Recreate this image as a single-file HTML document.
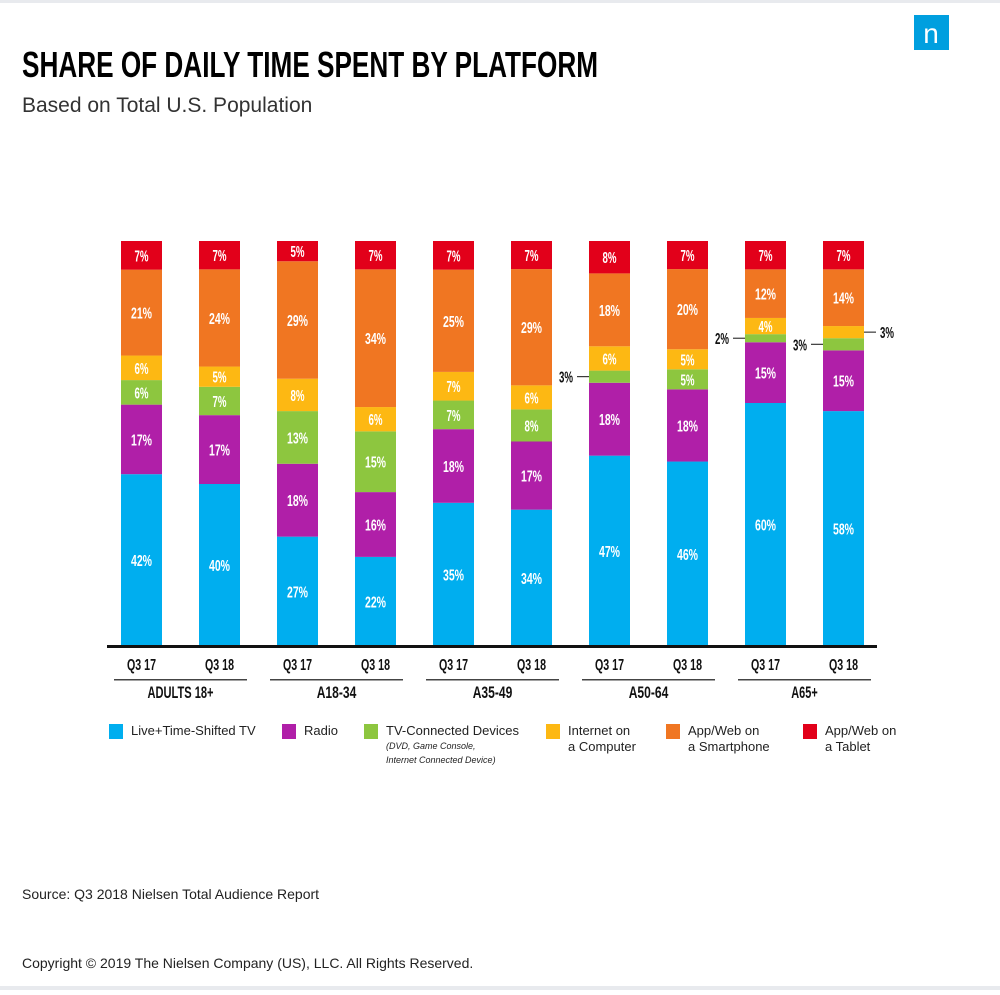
<!DOCTYPE html>
<html><head><meta charset="utf-8"><style>
body{margin:0;background:#fff;}
svg text{font-family:"Liberation Sans",sans-serif;}
.c{font-family:"Liberation Sans Narrow","Liberation Sans",sans-serif;font-weight:bold;}
</style></head><body>
<svg id="chart" width="1000" height="990" xmlns="http://www.w3.org/2000/svg">
<rect x="0" y="0" width="1000" height="990" fill="#fff"/>
<rect x="0" y="0" width="1000" height="3" fill="#e8eaee"/>
<rect x="0" y="986" width="1000" height="4" fill="#e8eaee"/>
<g><rect x="914" y="15" width="35" height="35" fill="#009fdf"/><text x="931" y="43" fill="#fff" font-size="28" text-anchor="middle" font-family="Liberation Serif,serif">n</text></g>
<text class="c" x="22" y="77" font-size="36" textLength="576" lengthAdjust="spacingAndGlyphs">SHARE OF DAILY TIME SPENT BY PLATFORM</text>
<text x="22" y="112" font-size="21" fill="#333">Based on Total U.S. Population</text>
<g id="bars"></g>
<rect x="107" y="645" width="770" height="3" fill="#111"/>
<g id="axis"></g>
<g id="legend"></g>
<text x="22" y="899" font-size="14" fill="#222">Source: Q3 2018 Nielsen Total Audience Report</text>
<text x="22" y="968" font-size="14" fill="#222">Copyright © 2019 The Nielsen Company (US), LLC. All Rights Reserved.</text>
</svg>
<script>
const groups=["ADULTS 18+","A18-34","A35-49","A50-64","A65+"];
const periods=["Q3 17","Q3 18"];
const seriesNames=["Live+Time-Shifted TV","Radio","TV-Connected Devices","Internet on a Computer","App/Web on a Smartphone","App/Web on a Tablet"];
const tv=[42,40,27,22,35,34,47,46,60,58];
const radio=[17,17,18,16,18,17,18,18,15,15];
const devices=[6,7,13,15,7,8,3,5,2,3];
const computer=[6,5,8,6,7,6,6,5,4,3];
const smartphone=[21,24,29,34,25,29,18,20,12,14];
const tablet=[7,7,5,7,7,7,8,7,7,7];
const series=[tv,radio,devices,computer,smartphone,tablet];
const colors=["#00aeef","#b01fa8","#8dc63f","#fdb813","#f07622","#e2001a"];
const NS="http://www.w3.org/2000/svg";
const top0=241,base=646,H=base-top0;
function xPos(i){return 121+i*78;}
const bw=41;
const gb=document.getElementById('bars');
function mk(t,a,p){const e=document.createElementNS(NS,t);for(const k in a)e.setAttribute(k,a[k]);p.appendChild(e);return e;}
function condense(t,w){t.setAttribute('textLength',w);t.setAttribute('lengthAdjust','spacingAndGlyphs');}
for(let i=0;i<tv.length;i++){
  const sum=series.reduce((s,a)=>s+a[i],0);
  let y=base;
  series.forEach((arr,si)=>{
    const h=arr[i]/sum*H;
    y-=h;
    const r=mk('rect',{x:xPos(i),y:y,width:bw,height:h,fill:colors[si]},gb);
    
    
    const small=arr[i]<4;
    const s=arr[i]+'%';
    if(!small){
      const t=mk('text',{x:xPos(i)+bw/2,y:y+h/2+6,'font-size':16,fill:'#fff','text-anchor':'middle',class:'c'},gb);
      t.textContent=s;
      condense(t,s.length*7);
      
      
    } else {
      const right=(i===9&&si===3);
      const lx=right?xPos(i)+bw+14:xPos(i)-14;
      const t=mk('text',{x:right?lx+2:lx-2,y:y+h/2+6,'font-size':16,fill:'#111','text-anchor':right?'start':'end',class:'c'},gb);
      t.textContent=s;
      condense(t,s.length*7);
      
      
      const l=mk('line',{x1:right?xPos(i)+bw:xPos(i)-12,x2:right?xPos(i)+bw+12:xPos(i),y1:y+h/2,y2:y+h/2,stroke:'#111','stroke-width':1},gb);
      
      
    }
  });
}
const ga=document.getElementById('axis');
for(let i=0;i<tv.length;i++){
  const t=mk('text',{x:xPos(i)+bw/2,y:670,'font-size':16,fill:'#111','text-anchor':'middle',class:'c'},ga);
  t.textContent=periods[i%2];
  condense(t,29);
  
  
}
groups.forEach((g,gi)=>{
  const x0=xPos(gi*2)-7,x1=xPos(gi*2+1)+bw+7;
  const l=mk('rect',{x:x0,y:679,width:x1-x0,height:1.5,fill:'#444'},ga);
  
  
  const t=mk('text',{x:(x0+x1)/2,y:698,'font-size':17,fill:'#111','text-anchor':'middle',class:'c'},ga);
  t.textContent=g;
  condense(t,g.length*6.6);
  
  
});
const gl=document.getElementById('legend');
const lx=[109,282,364,546,666,803];
const lines=[["Live+Time-Shifted TV"],["Radio"],["TV-Connected Devices"],["Internet on","a Computer"],["App/Web on","a Smartphone"],["App/Web on","a Tablet"]];
seriesNames.forEach((n,i)=>{
  const g=mk('g',{},gl);
  
  
  mk('rect',{x:lx[i],y:724,width:14,height:15,fill:colors[i]},g);
  lines[i].forEach((s,k)=>{
    const t=mk('text',{x:lx[i]+22,y:735+k*16,'font-size':13,fill:'#222'},g);
    t.textContent=s;
  });
  if(i===2){
    ["(DVD, Game Console,","Internet Connected Device)"].forEach((s,k)=>{
      const t=mk('text',{x:lx[i]+22,y:749+k*14,'font-size':9,fill:'#222','font-style':'italic'},g);
      t.textContent=s;
    });
  }
});
</script>
</body></html>
